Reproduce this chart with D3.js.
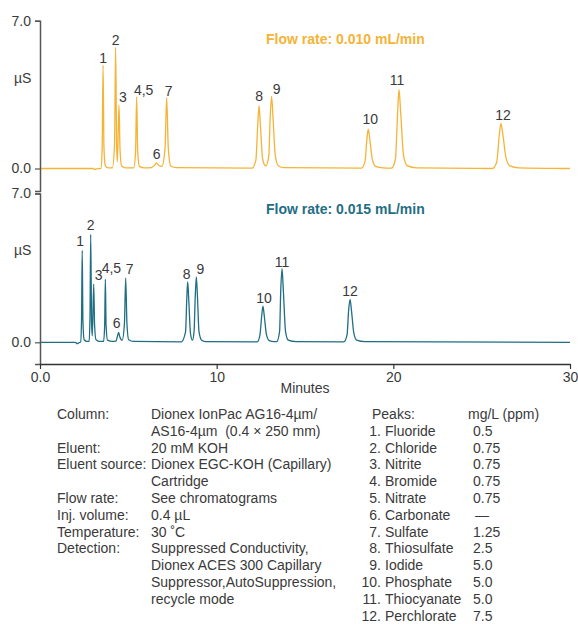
<!DOCTYPE html>
<html>
<head>
<meta charset="utf-8">
<script src="https://cdn.jsdelivr.net/npm/d3@7"></script>
<style>
  body { margin: 0; background: #fff; }
  svg { display: block; font-family: "Liberation Sans", Arial, sans-serif; }
</style>
</head>
<body>
<div id="chart"></div>
<script>
// Chromatogram data: [minutes, µS]
const traceSlow = [
  [0, 0], [3.0, 0], [3.1, -0.05], [3.2, -0.02], [3.45, 0.01],
  [3.52, 1.0], [3.57, 4.9], [3.62, 1.0], [3.7, 0.12], [3.85, 0.03],
  [4.1, 0.03], [4.22, 1.2], [4.28, 5.74], [4.34, 1.0], [4.38, 0.32],
  [4.47, 3.0], [4.53, 0.9], [4.62, 0.12], [4.85, 0.03],
  [5.3, 0.03], [5.41, 0.8], [5.47, 3.39], [5.53, 0.8], [5.63, 0.1], [5.9, 0.03],
  [6.3, 0.04], [6.5, 0.17], [6.6, 0.27], [6.72, 0.14], [6.9, 0.1],
  [7.08, 1.0], [7.17, 3.36], [7.26, 1.0], [7.4, 0.12], [7.7, 0.04],
  [12.0, 0.02], [12.22, 0.4], [12.32, 2.0], [12.4, 2.98], [12.48, 2.0], [12.6, 0.45], [12.78, 0.12],
  [12.95, 0.6], [13.03, 2.4], [13.11, 3.42], [13.19, 2.4], [13.32, 0.6], [13.5, 0.12], [13.8, 0.04],
  [18.2, 0.02], [18.4, 0.35], [18.5, 1.35], [18.58, 1.86], [18.68, 1.3], [18.82, 0.4], [19.0, 0.1], [19.4, 0.03],
  [19.9, 0.02], [20.12, 0.45], [20.24, 2.6], [20.32, 3.75], [20.42, 2.6], [20.58, 0.6], [20.8, 0.12], [21.3, 0.03],
  [25.6, 0.0], [25.85, 0.3], [26.0, 1.6], [26.09, 2.14], [26.2, 1.6], [26.38, 0.5], [26.6, 0.12], [27.1, 0.03],
  [30, 0.0]
];

const traceFast = [
  [0, 0], [2.0, 0], [2.1, -0.06], [2.2, -0.02], [2.3, 0.01],
  [2.35, 1.0], [2.39, 4.33], [2.43, 1.0], [2.5, 0.12], [2.65, 0.04],
  [2.78, 0.05], [2.83, 1.2], [2.87, 5.08], [2.92, 0.9], [2.96, 0.3],
  [3.04, 2.74], [3.09, 0.8], [3.17, 0.12], [3.4, 0.04],
  [3.6, 0.04], [3.66, 0.8], [3.7, 2.97], [3.74, 0.8], [3.82, 0.1], [4.1, 0.04],
  [4.3, 0.06], [4.39, 0.3], [4.45, 0.47], [4.52, 0.25], [4.65, 0.1],
  [4.78, 0.9], [4.85, 3.02], [4.92, 0.9], [5.02, 0.12], [5.3, 0.04],
  [8.0, 0.02], [8.24, 0.5], [8.31, 2.1], [8.36, 2.85], [8.42, 2.0], [8.52, 0.4], [8.63, 0.1],
  [8.72, 0.5], [8.79, 2.2], [8.85, 3.08], [8.91, 2.2], [9.0, 0.5], [9.15, 0.1], [9.4, 0.03],
  [12.3, 0.02], [12.45, 0.35], [12.55, 1.25], [12.62, 1.7], [12.7, 1.2], [12.82, 0.35], [12.98, 0.08], [13.25, 0.03],
  [13.4, 0.03], [13.56, 0.5], [13.63, 2.5], [13.7, 3.47], [13.77, 2.5], [13.9, 0.5], [14.05, 0.1], [14.5, 0.03],
  [17.2, 0.02], [17.38, 0.35], [17.47, 1.5], [17.55, 2.02], [17.63, 1.5], [17.76, 0.45], [17.92, 0.1], [18.4, 0.03],
  [30, 0.0]
];

const peakLabels = ["1", "2", "3", "4,5", "6", "7", "8", "9", "10", "11", "12"];
const peakTimesSlow = [3.57, 4.28, 4.47, 5.47, 6.6, 7.17, 12.4, 13.11, 18.58, 20.32, 26.09];
const peakTimesFast = [2.39, 2.87, 3.04, 3.7, 4.45, 4.85, 8.36, 8.85, 12.62, 13.7, 17.55];

const titleSlow = "Flow rate: 0.010 mL/min";
const titleFast = "Flow rate: 0.015 mL/min";

const xTicks = [0, 10, 20, 30];
const xTickLabels = ["0.0", "10", "20", "30"];
const yTicks = [0, 7];

const condLabels = ["Column:", "", "Eluent:", "Eluent source:", "", "Flow rate:", "Inj. volume:",
  "Temperature:", "Detection:", "", "", ""];
const condValues = ["Dionex IonPac AG16-4µm/", "AS16-4µm  (0.4 × 250 mm)", "20 mM KOH",
  "Dionex EGC-KOH (Capillary)", "Cartridge", "See chromatograms", "0.4 µL", "30 ˚C",
  "Suppressed Conductivity,", "Dionex ACES 300 Capillary", "Suppressor,AutoSuppression,", "recycle mode"];

const peakNames = ["Fluoride", "Chloride", "Nitrite", "Bromide", "Nitrate", "Carbonate", "Sulfate",
  "Thiosulfate", "Iodide", "Phosphate", "Thiocyanate", "Perchlorate"];
const peakConc = ["0.5", "0.75", "0.75", "0.75", "0.75", "—", "1.25", "2.5", "5.0", "5.0", "5.0", "7.5"];

// ---- drawing ----
const width = 578, height = 626;
const orange = "#f6b335", teal = "#1f6e84", ink = "#3a3a3a";

const svg = d3.select("#chart").append("svg")
  .attr("width", width).attr("height", height);

const x = d3.scaleLinear().domain([0, 30]).range([40, 570]);
const yTop = d3.scaleLinear().domain([0, 7]).range([168.5, 20.7]);
const yBot = d3.scaleLinear().domain([0, 7]).range([342.3, 193.5]);

// label nudges (px) so numbers sit like the reference
const nudgeSlow = { "3": [4, -3], "4,5": [7, -2], "6": [0, -4], "7": [2, -2], "8": [0, -5], "9": [5, -2], "10": [2, -5], "11": [-2, -4], "12": [2, -3] };
const nudgeFast = { "1": [-2, -4], "2": [0, -4], "3": [5, -4], "4,5": [6, -6], "6": [-2, -4], "7": [4, -4], "8": [-1, -3], "9": [4, -3], "10": [1, -3], "11": [0, -2], "12": [0, -3] };

function drawPanel(trace, times, y, color, title, nudge, titleY, muY, axisBottom) {
  const g = svg.append("g");

  const line = d3.line()
    .x(d => x(d[0]))
    .y(d => y(d[1]))
    .curve(d3.curveMonotoneX);

  g.append("path")
    .datum(trace)
    .attr("fill", "none")
    .attr("stroke", color)
    .attr("stroke-width", 1.3)
    .attr("stroke-linejoin", "round")
    .attr("d", line);

  // peak numbers
  g.selectAll("text.peak")
    .data(peakLabels)
    .enter().append("text")
    .attr("class", "peak")
    .attr("text-anchor", "middle")
    .attr("font-size", 14)
    .attr("fill", ink)
    .attr("x", (d, i) => x(times[i]) + (nudge[d] ? nudge[d][0] : 0))
    .attr("y", (d, i) => {
      const pt = trace.find(p => p[0] === times[i]);
      return y(pt[1]) + (nudge[d] ? nudge[d][1] : -2);
    })
    .text(d => d);

  g.append("text")
    .attr("x", 266).attr("y", titleY)
    .attr("font-size", 14).attr("font-weight", "bold")
    .attr("fill", color)
    .text(title);

  g.append("text")
    .attr("x", 14).attr("y", muY)
    .attr("font-size", 14).attr("fill", ink)
    .text("µS");

  // y axis, extended down so the outer tick marks the panel end
  const axisScale = d3.scaleLinear()
    .domain([y.invert(axisBottom), 7])
    .range([axisBottom, y(7)]);
  const ax = g.append("g")
    .attr("transform", "translate(40,0)")
    .call(d3.axisLeft(axisScale).tickValues(yTicks)
      .tickFormat(d3.format(".1f")).tickSize(5).tickSizeOuter(5).tickPadding(4));
  ax.select(".domain").attr("stroke", "#555").attr("stroke-width", 1.5);
  ax.selectAll(".tick line").attr("stroke", "#555").attr("stroke-width", 1.2);
  ax.selectAll("text").attr("font-size", 14).attr("fill", ink)
    .attr("font-family", "Liberation Sans, Arial, sans-serif");
}

drawPanel(traceSlow, peakTimesSlow, yTop, orange, titleSlow, nudgeSlow, 44, 83, 191);
drawPanel(traceFast, peakTimesFast, yBot, teal, titleFast, nudgeFast, 214, 255, 364);

// x axis
const xa = svg.append("g")
  .attr("transform", "translate(0,364)")
  .call(d3.axisBottom(x).tickValues(xTicks)
    .tickFormat((d, i) => xTickLabels[i]).tickSize(5).tickSizeOuter(0).tickPadding(3));
xa.select(".domain").attr("stroke", "#333").attr("stroke-width", 1.3);
xa.selectAll(".tick line").attr("stroke", "#333").attr("stroke-width", 1.2);
xa.selectAll("text").attr("font-size", 14).attr("fill", ink)
  .attr("font-family", "Liberation Sans, Arial, sans-serif");

svg.append("text")
  .attr("x", (x(0) + x(30)) / 2).attr("y", 393)
  .attr("text-anchor", "middle")
  .attr("font-size", 14).attr("fill", ink)
  .text("Minutes");

// conditions block
const rowY = i => 419 + i * 16.8;
const notes = svg.append("g").attr("font-size", 14).attr("fill", ink);

notes.selectAll("text.cl").data(condLabels).enter().append("text")
  .attr("class", "cl").attr("x", 57).attr("y", (d, i) => rowY(i)).text(d => d);
notes.selectAll("text.cv").data(condValues).enter().append("text")
  .attr("class", "cv").attr("x", 151).attr("y", (d, i) => rowY(i))
  .attr("xml:space", "preserve").style("white-space", "pre").text(d => d);

notes.append("text").attr("x", 372).attr("y", rowY(0)).text("Peaks:");
notes.append("text").attr("x", 468).attr("y", rowY(0)).text("mg/L (ppm)");
notes.selectAll("text.pn").data(peakNames).enter().append("text")
  .attr("class", "pn").attr("x", 381).attr("y", (d, i) => rowY(i + 1))
  .attr("text-anchor", "end").text((d, i) => (i + 1) + ".");
notes.selectAll("text.pm").data(peakNames).enter().append("text")
  .attr("class", "pm").attr("x", 385).attr("y", (d, i) => rowY(i + 1)).text(d => d);
notes.selectAll("text.pc").data(peakConc).enter().append("text")
  .attr("class", "pc").attr("x", d => d === "—" ? 475 : 473).attr("y", (d, i) => rowY(i + 1)).text(d => d);
</script>
</body>
</html>
